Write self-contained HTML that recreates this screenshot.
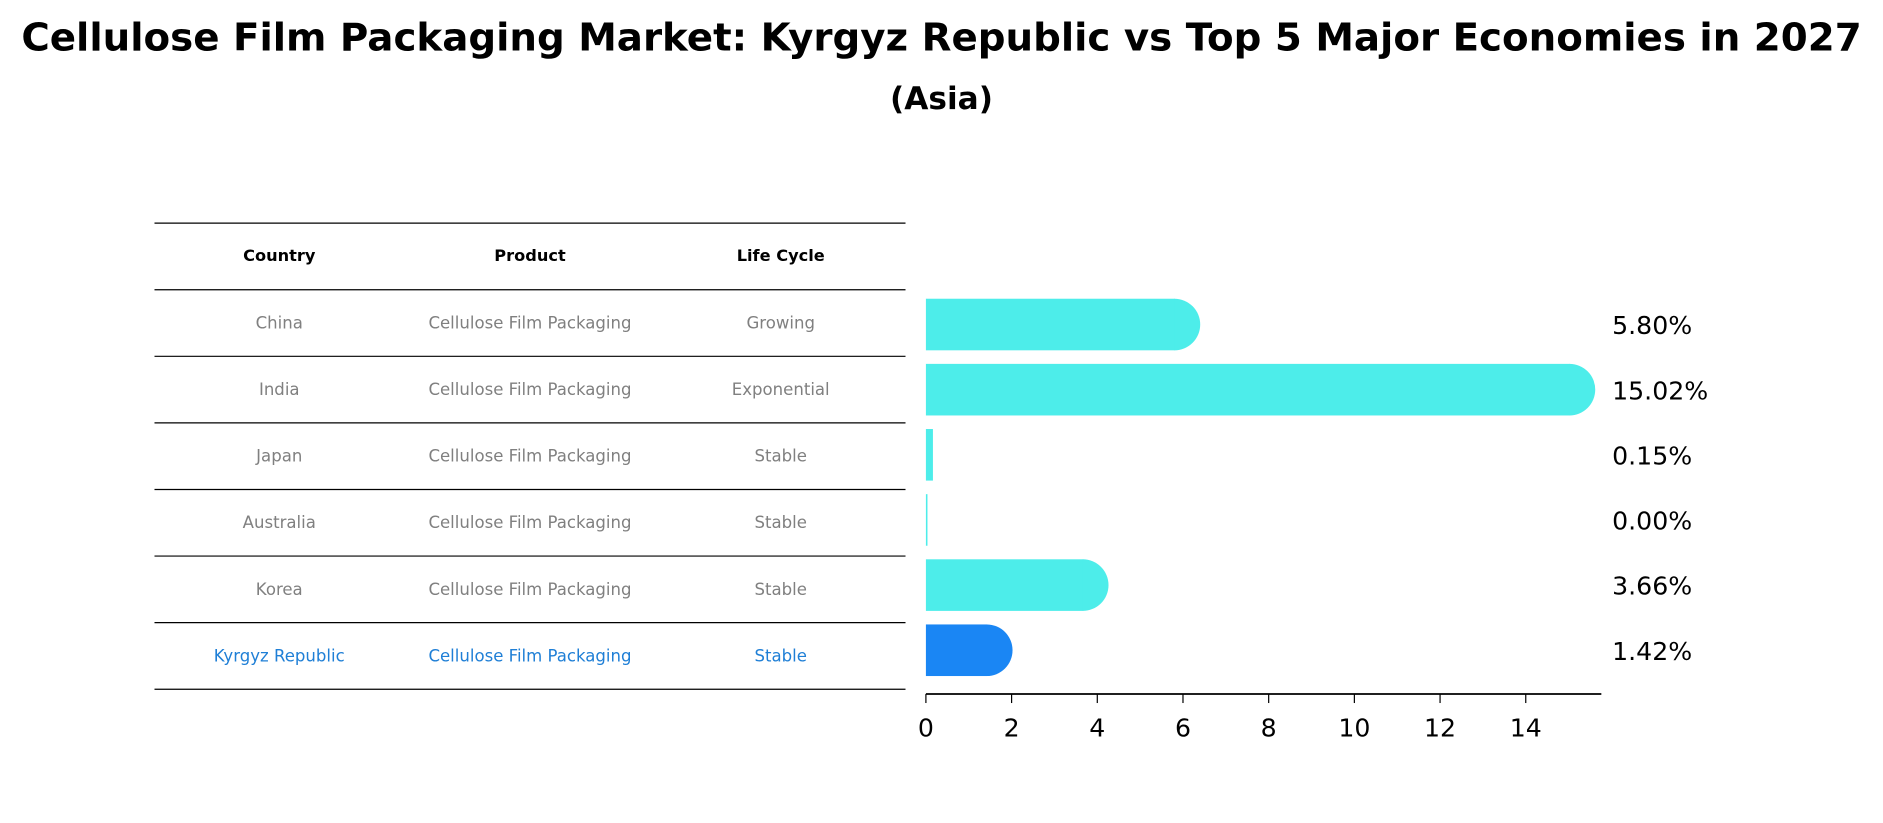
<!DOCTYPE html>
<html><head><meta charset="utf-8"><style>
html,body{margin:0;padding:0;background:#fff;}
svg{display:block;font-family:"DejaVu Sans","Liberation Sans",sans-serif;}
</style></head><body>
<svg id="chart" width="1883" height="823" viewBox="0 0 1568 686" xmlns="http://www.w3.org/2000/svg">
<text x="784" y="42" text-anchor="middle" font-size="32" font-weight="bold" fill="#000" textLength="1534" lengthAdjust="spacingAndGlyphs">Cellulose Film Packaging Market: Kyrgyz Republic vs Top 5 Major Economies in 2027</text>
<text x="784" y="91" text-anchor="middle" font-size="26" font-weight="bold" fill="#000">(Asia)</text>
<g id="table"></g>
<g id="bars"></g>
</svg>
<script>
const countries = ["China","India","Japan","Australia","Korea","Kyrgyz Republic"];
const products = ["Cellulose Film Packaging","Cellulose Film Packaging","Cellulose Film Packaging","Cellulose Film Packaging","Cellulose Film Packaging","Cellulose Film Packaging"];
const lifeCycles = ["Growing","Exponential","Stable","Stable","Stable","Stable"];
const values = [5.80, 15.02, 0.15, 0.00, 3.66, 1.42];
const valueLabels = ["5.80%","15.02%","0.15%","0.00%","3.66%","1.42%"];
const xTicks = [0,2,4,6,8,10,12,14];
const headers = ["Country","Product","Life Cycle"];

const NS = "http://www.w3.org/2000/svg";
function mk(tag, attrs, parent){const e=document.createElementNS(NS,tag);for(const k in attrs)e.setAttribute(k,attrs[k]);parent.appendChild(e);return e;}

const tbl = document.getElementById('table');
const tX0=128, tX1=754, colX=[232,441,650];
const rowTop=186, headH=55.5, rowH=55.5;
for(let i=0;i<=countries.length+1;i++){
  const y=rowTop+i*rowH;
  const l=mk('line',{x1:tX0,x2:tX1,y1:y,y2:y,stroke:'#000','stroke-width':1},tbl);
  
  
}
headers.forEach((h,j)=>{
  const t=mk('text',{x:colX[j],y:rowTop+headH/2+4,'text-anchor':'middle','font-size':13.5,'font-weight':'bold',fill:'#000'},tbl);
  t.textContent=h;
  
  
});
countries.forEach((c,i)=>{
  const y=rowTop+headH+i*rowH+rowH/2+4.5;
  const col = i===countries.length-1 ? '#1f7fd6' : '#808080';
  [c,products[i],lifeCycles[i]].forEach((v,j)=>{
    const t=mk('text',{x:colX[j],y:y,'text-anchor':'middle','font-size':13.8,fill:col},tbl);
    t.textContent=v;
    
    
  });
});

const g=document.getElementById('bars');
const x0=771, pxPer=(1271-771)/14;
const xs=v=>x0+v*pxPer;
const firstC=270.5, step=54.3, barH=43;
const yc=i=>firstC+i*step;
values.forEach((v,i)=>{
  const color = i===values.length-1 ? '#1a86f4' : '#4dedea';
  const y=yc(i)-barH/2;
  const w=Math.max(xs(v)-x0,0.8);
  const r=mk('rect',{x:x0,y:y,width:w+0.5,height:barH,fill:color},g);
  
  
  if(v>1){
    const c=mk('path',{d:`M${xs(v)},${y} A${barH/2},${barH/2} 0 0 1 ${xs(v)},${y+barH} Z`,fill:color},g);
    
    
  }
  const t=mk('text',{x:1343,y:yc(i)+8,'font-size':21,fill:'#000'},g);
  t.textContent=valueLabels[i];
  
  
});
const ax=mk('line',{x1:x0,x2:1334,y1:578.5,y2:578.5,stroke:'#000','stroke-width':1.5},g);


xTicks.forEach(v=>{
  const tk=mk('line',{x1:xs(v),x2:xs(v),y1:578.5,y2:586,stroke:'#000','stroke-width':1},g);
  
  
  const t=mk('text',{x:xs(v),y:614,'text-anchor':'middle','font-size':21,fill:'#000'},g);
  t.textContent=String(v);
  
  
});
</script>
</body></html>
